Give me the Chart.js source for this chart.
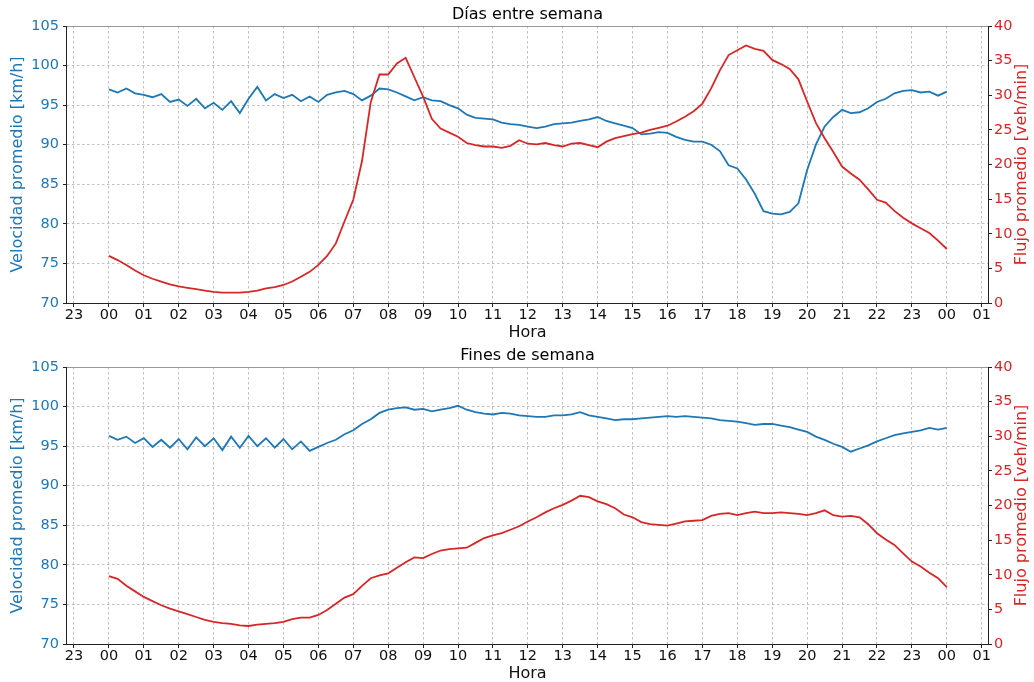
<!DOCTYPE html>
<html>
<head>
<meta charset="utf-8">
<script src="https://cdn.jsdelivr.net/npm/chart.js@4"></script>
<style>
  body { margin: 0; background: #fff; }
  .panel { width: 1034px; height: 341px; }
  canvas { display: block; }
</style>
</head>
<body>
<div class="panel"><canvas id="weekday-chart" width="1034" height="341"></canvas></div>
<div class="panel"><canvas id="weekend-chart" width="1034" height="341"></canvas></div>
<script>
// x tick positions (hours) and their labels
const tickHours = [-1, 0, 1, 2, 3, 4, 5, 6, 7, 8, 9, 10, 11, 12, 13, 14, 15, 16, 17, 18, 19, 20, 21, 22, 23, 24, 25];
const tickLabels = ['23', '00', '01', '02', '03', '04', '05', '06', '07', '08', '09', '10', '11', '12',
    '13', '14', '15', '16', '17', '18', '19', '20', '21', '22', '23', '00', '01'];

// one value every 15 minutes, 00:00 -> 24:00
const speedWeekday = [
    97.0, 96.6, 97.1, 96.5,  96.3, 96.0, 96.4, 95.4,  95.7, 94.9, 95.8, 94.6,  95.3, 94.4, 95.5, 94.0,
    95.8, 97.3, 95.6, 96.4,  95.9, 96.3, 95.5, 96.1,  95.4, 96.3, 96.6, 96.8,  96.4, 95.6, 96.2, 97.1,
    97.0, 96.6, 96.1, 95.6,  96.0, 95.6, 95.5, 95.0,  94.6, 93.8, 93.4, 93.3,  93.2, 92.8, 92.6, 92.5,
    92.3, 92.1, 92.3, 92.6,  92.7, 92.8, 93.0, 93.2,  93.5, 93.0, 92.7, 92.4,  92.1, 91.3, 91.4, 91.6,
    91.5, 91.0, 90.6, 90.4,  90.4, 90.0, 89.2, 87.4,  87.0, 85.6, 83.8, 81.6,  81.3, 81.2, 81.5, 82.6,
    86.8, 90.0, 92.3, 93.5,  94.4, 94.0, 94.1, 94.6,  95.4, 95.8, 96.5, 96.8,  96.9, 96.6, 96.7, 96.2,
    96.7
];
const flowWeekday = [
    6.8, 6.2, 5.5, 4.7,  4.0, 3.5, 3.1, 2.7,  2.4, 2.2, 2.0, 1.8,  1.6, 1.5, 1.5, 1.5,
    1.6, 1.8, 2.1, 2.3,  2.6, 3.1, 3.8, 4.5,  5.5, 6.8, 8.6, 11.8,  14.9, 20.5, 29.0, 33.0,
    33.0, 34.6, 35.4, 32.6,  29.8, 26.6, 25.2, 24.6,  24.0, 23.1, 22.8, 22.6,  22.6, 22.4, 22.7, 23.5,
    23.0, 22.9, 23.1, 22.8,  22.6, 23.0, 23.1, 22.8,  22.5, 23.3, 23.8, 24.1,  24.4, 24.6, 25.0, 25.3,
    25.6, 26.2, 26.9, 27.7,  28.8, 31.0, 33.6, 35.8,  36.5, 37.2, 36.7, 36.4,  35.1, 34.5, 33.8, 32.3,
    29.1, 26.0, 23.8, 21.8,  19.7, 18.7, 17.8, 16.4,  14.9, 14.5, 13.3, 12.3,  11.5, 10.8, 10.1, 9.0,
    7.8
];
const speedWeekend = [
    96.3, 95.8, 96.2, 95.4,  96.0, 94.9, 95.8, 94.8,  95.9, 94.6, 96.1, 95.0,  96.0, 94.5, 96.2, 94.8,
    96.3, 95.0, 96.0, 94.8,  95.9, 94.6, 95.6, 94.4,  94.9, 95.4, 95.8, 96.5,  97.0, 97.8, 98.4, 99.2,
    99.6, 99.8, 99.9, 99.6,  99.7, 99.4, 99.6, 99.8,  100.1, 99.6, 99.3, 99.1,  99.0, 99.2, 99.1, 98.9,
    98.8, 98.7, 98.7, 98.9,  98.9, 99.0, 99.3, 98.9,  98.7, 98.5, 98.3, 98.4,  98.4, 98.5, 98.6, 98.7,
    98.8, 98.7, 98.8, 98.7,  98.6, 98.5, 98.3, 98.2,  98.1, 97.9, 97.7, 97.8,  97.8, 97.6, 97.4, 97.1,
    96.8, 96.2, 95.8, 95.3,  94.9, 94.3, 94.7, 95.1,  95.6, 96.0, 96.4, 96.6,  96.8, 97.0, 97.3, 97.1,
    97.3
];
const flowWeekend = [
    9.8, 9.4, 8.4, 7.6,  6.8, 6.2, 5.6, 5.1,  4.7, 4.3, 3.9, 3.5,  3.2, 3.0, 2.9, 2.7,
    2.6, 2.8, 2.9, 3.0,  3.2, 3.6, 3.8, 3.8,  4.2, 4.9, 5.8, 6.7,  7.2, 8.4, 9.5, 9.9,
    10.2, 11.0, 11.8, 12.5,  12.4, 13.0, 13.5, 13.7,  13.8, 13.9, 14.6, 15.3,  15.7, 16.0, 16.5, 17.0,
    17.7, 18.3, 19.0, 19.6,  20.1, 20.7, 21.4, 21.2,  20.6, 20.2, 19.6, 18.7,  18.3, 17.6, 17.3, 17.2,
    17.1, 17.4, 17.7, 17.8,  17.9, 18.5, 18.8, 18.9,  18.6, 18.9, 19.1, 18.9,  18.9, 19.0, 18.9, 18.8,
    18.6, 18.9, 19.3, 18.6,  18.4, 18.5, 18.3, 17.3,  16.0, 15.1, 14.3, 13.1,  11.9, 11.2, 10.3, 9.5,
    8.2
];

const hours = speedWeekday.map((_, i) => i * 0.25);

const BLUE = '#1f77b4';
const RED = '#d62728';
const GRID = '#b0b0b0';
const FONT = 'DejaVu Sans';

Chart.defaults.font.family = FONT;

// matplotlib-like frame, centred title and right axis label (reads bottom to top)
const framePlugin = {
    id: 'frame',
    afterDatasetsDraw(chart, args, opts) {
        const { ctx, chartArea: a } = chart;
        ctx.save();
        ctx.lineWidth = 1;
        ctx.strokeStyle = '#999999';
        ctx.beginPath();
        ctx.moveTo(a.left, a.top + 0.5);
        ctx.lineTo(a.right, a.top + 0.5);
        ctx.stroke();
        ctx.strokeStyle = '#222222';
        ctx.beginPath();
        ctx.moveTo(a.left - 0.5, a.top);
        ctx.lineTo(a.left - 0.5, a.bottom + 0.5);
        ctx.lineTo(a.right + 0.5, a.bottom + 0.5);
        ctx.lineTo(a.right + 0.5, a.top);
        ctx.stroke();

        ctx.fillStyle = '#000';
        ctx.font = '16px ' + FONT;
        ctx.textAlign = 'center';
        ctx.textBaseline = 'middle';
        ctx.fillText(opts.text, (a.left + a.right) / 2, 15);

        ctx.translate(1022, (a.top + a.bottom) / 2);
        ctx.rotate(-Math.PI / 2);
        ctx.fillStyle = RED;
        ctx.fillText(opts.rightTitle, 0, 0);
        ctx.restore();
    }
};

function makeChart(canvasId, title, speed, flow) {
    const ctx = document.getElementById(canvasId).getContext('2d');
    return new Chart(ctx, {
        type: 'line',
        data: {
            datasets: [
                {
                    label: 'Velocidad',
                    data: hours.map((h, i) => ({ x: h, y: speed[i] })),
                    borderColor: BLUE,
                    borderWidth: 1.8,
                    pointRadius: 0,
                    tension: 0,
                    yAxisID: 'y',
                    order: 1
                },
                {
                    label: 'Flujo',
                    data: hours.map((h, i) => ({ x: h, y: flow[i] })),
                    borderColor: RED,
                    borderWidth: 1.8,
                    pointRadius: 0,
                    tension: 0,
                    yAxisID: 'y1',
                    order: 0
                }
            ]
        },
        options: {
            responsive: false,
            animation: false,
            devicePixelRatio: 1,
            layout: { padding: { top: 26, left: 0, right: 0, bottom: 0 } },
            plugins: {
                legend: { display: false },
                tooltip: { enabled: false },
                frame: { text: title, rightTitle: 'Flujo promedio [veh/min]' }
            },
            scales: {
                x: {
                    type: 'linear',
                    min: -1.2,
                    max: 25.18,
                    afterBuildTicks: function(scale) {
                        scale.ticks = tickHours.map(v => ({ value: v }));
                    },
                    afterFit: function(scale) { scale.height = 38; },
                    ticks: {
                        autoSkip: false,
                        maxRotation: 0,
                        padding: 0,
                        color: '#111',
                        font: { size: 14.5 },
                        callback: function(value, index) {
                            return tickLabels[index];
                        }
                    },
                    grid: {
                        color: GRID,
                        lineWidth: 0.8,
                        tickLength: 4,
                        tickColor: '#222',
                        tickWidth: 1
                    },
                    border: { display: false, dash: [2.5, 2.5] },
                    title: {
                        display: true,
                        text: 'Hora',
                        color: '#111',
                        font: { size: 16, lineHeight: 1 },
                        padding: { top: 0, bottom: 0 }
                    }
                },
                y: {
                    position: 'left',
                    min: 70,
                    max: 105,
                    afterFit: function(scale) { scale.width = 67; },
                    ticks: {
                        stepSize: 5,
                        padding: 4,
                        color: BLUE,
                        font: { size: 14.5 }
                    },
                    grid: {
                        color: GRID,
                        lineWidth: 0.8,
                        tickLength: 4,
                        tickColor: '#222',
                        tickWidth: 1
                    },
                    border: { display: false, dash: [2.5, 2.5] },
                    title: {
                        display: true,
                        text: 'Velocidad promedio [km/h]',
                        color: BLUE,
                        font: { size: 16 },
                        padding: { top: 8, bottom: 0 }
                    }
                },
                y1: {
                    position: 'right',
                    min: 0,
                    max: 40,
                    afterFit: function(scale) { scale.width = 46; },
                    ticks: {
                        stepSize: 5,
                        padding: 2,
                        color: RED,
                        font: { size: 14.5 }
                    },
                    grid: {
                        drawOnChartArea: false,
                        tickLength: 4,
                        tickColor: '#222',
                        tickWidth: 1
                    },
                    border: { display: false }
                }
            }
        },
        plugins: [framePlugin]
    });
}

makeChart('weekday-chart', 'Días entre semana', speedWeekday, flowWeekday);
makeChart('weekend-chart', 'Fines de semana', speedWeekend, flowWeekend);
</script>
</body>
</html>
